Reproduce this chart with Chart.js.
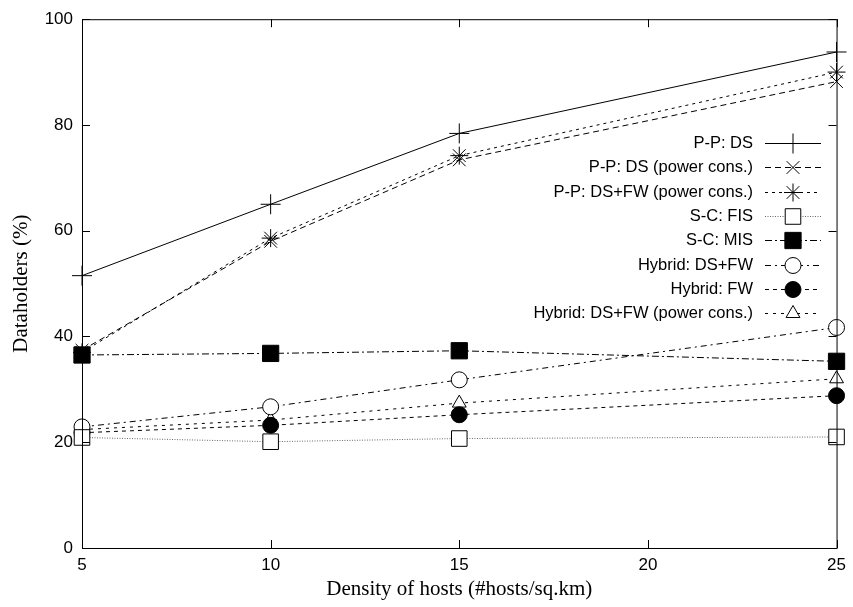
<!DOCTYPE html>
<html>
<head>
<meta charset="utf-8">
<script src="https://cdn.jsdelivr.net/npm/chart.js@4.4.1/dist/chart.umd.min.js"></script>
<style>
  html, body { margin: 0; padding: 0; background: #fff; }
  #wrap { width: 853px; height: 607px; }
</style>
</head>
<body>
<div id="wrap"><canvas id="chart" width="853" height="607"></canvas></div>
<script>
// Densidade de hosts (eixo x)
var hosts = [5, 10, 15, 25]
var xTicks = [5, 10, 15, 20, 25]
var yTicks = [0, 20, 40, 60, 80, 100]

// Dataholders (%)
var ppDS = [51.5, 65.0, 78.4, 93.8]
var ppDSpower = [37.4, 58.0, 73.4, 88.2]
var ppDSFWpower = [37.0, 58.6, 74.2, 90.0]
var scFIS = [20.9, 20.1, 20.7, 21.0]
var scMIS = [36.5, 36.8, 37.3, 35.3]
var hybDSFW = [22.9, 26.7, 31.8, 41.7]
var hybFW = [21.8, 23.2, 25.2, 28.8]
var hybDSFWpower = [22.4, 24.2, 27.4, 32.0]

var labels = [
  'P-P: DS',
  'P-P: DS (power cons.)',
  'P-P: DS+FW (power cons.)',
  'S-C: FIS',
  'S-C: MIS',
  'Hybrid: DS+FW',
  'Hybrid: FW',
  'Hybrid: DS+FW (power cons.)'
]

var sans = '"Liberation Sans", Arial, sans-serif'
var serif = '"Liberation Serif", "Times New Roman", serif'

function pts(values){
  return values.map((v, i) => ({ x: hosts[i], y: v }))
}

function serie(label, values, dash, style, radius, filled, lineColor){
  return {
    label: label,
    data: pts(values),
    borderColor: lineColor || '#000',
    borderWidth: 1,
    borderDash: dash,
    pointStyle: style,
    pointRadius: radius,
    pointHoverRadius: radius,
    pointBorderColor: '#000',
    pointBorderWidth: 1,
    pointBackgroundColor: filled ? '#000' : '#fff',
    tension: 0,
    fill: false,
    clip: false
  }
}

var datasets = [
  serie(labels[0], ppDS, [], 'cross', 10, false),
  serie(labels[1], ppDSpower, [6, 4], 'crossRot', 9, false),
  serie(labels[2], ppDSFWpower, [3, 4], 'star', 9, false),
  serie(labels[3], scFIS, [1, 1.5], 'rect', 11, false, '#666'),
  serie(labels[4], scMIS, [7, 3, 2, 3], 'rect', 11.5, true),
  serie(labels[5], hybDSFW, [6, 4, 2, 4], 'circle', 8, false),
  serie(labels[6], hybFW, [4, 4], 'circle', 8, true),
  serie(labels[7], hybDSFWpower, [3, 5], 'triangle', 8, false)
]

// Moldura, marcas internas e legenda no estilo gnuplot
var framePlugin = {
  id: 'frame',
  afterDraw(chart){
    var ctx = chart.ctx
    var a = chart.chartArea
    var xs = chart.scales.x
    var ys = chart.scales.y
    var tl = 8
    ctx.save()
    ctx.strokeStyle = '#000'
    ctx.lineWidth = 1
    ctx.setLineDash([])
    ctx.strokeRect(a.left + 0.5, a.top + 0.5, a.right - a.left, a.bottom - a.top)
    ctx.beginPath()
    xTicks.forEach((t) => {
      var px = Math.round(xs.getPixelForValue(t)) + 0.5
      ctx.moveTo(px, a.bottom); ctx.lineTo(px, a.bottom - tl)
      ctx.moveTo(px, a.top); ctx.lineTo(px, a.top + tl)
    })
    yTicks.forEach((t) => {
      var py = Math.round(ys.getPixelForValue(t)) + 0.5
      ctx.moveTo(a.left, py); ctx.lineTo(a.left + tl, py)
      ctx.moveTo(a.right, py); ctx.lineTo(a.right - tl, py)
    })
    ctx.stroke()

    // legenda
    ctx.font = '16.5px ' + sans
    ctx.textAlign = 'right'
    ctx.textBaseline = 'middle'
    chart.data.datasets.forEach((ds, i) => {
      var y = Math.round(143 + i * 24.3) + 0.5
      ctx.fillStyle = '#000'
      ctx.fillText(ds.label, 753, y)
      ctx.strokeStyle = ds.borderColor
      ctx.setLineDash(ds.borderDash)
      ctx.beginPath()
      ctx.moveTo(765, y)
      ctx.lineTo(821, y)
      ctx.stroke()
      ctx.setLineDash([])
      ctx.strokeStyle = '#000'
      ctx.fillStyle = ds.pointBackgroundColor
      Chart.helpers.drawPoint(ctx, {
        pointStyle: ds.pointStyle,
        radius: ds.pointRadius,
        rotation: 0,
        borderWidth: 1
      }, 793, y)
    })
    ctx.restore()
  }
}

new Chart(document.getElementById('chart'), {
  type: 'line',
  data: { datasets: datasets },
  options: {
    responsive: false,
    animation: false,
    layout: { autoPadding: false, padding: { left: 0, top: 15, right: 4, bottom: 0 } },
    plugins: {
      legend: { display: false },
      tooltip: { enabled: false }
    },
    scales: {
      x: {
        type: 'linear',
        min: 5,
        max: 25,
        afterBuildTicks: (s) => { s.ticks = xTicks.map((v) => ({ value: v })) },
        afterFit: (s) => { s.height = 59 },
        grid: { display: false, drawTicks: false },
        border: { display: false },
        ticks: {
          padding: 7,
          color: '#000',
          font: { family: sans, size: 17 }
        },
        title: {
          display: true,
          text: 'Density of hosts (#hosts/sq.km)',
          color: '#000',
          font: { family: serif, size: 21 },
          padding: { top: 0, bottom: 5 }
        }
      },
      y: {
        min: 0,
        max: 100,
        afterBuildTicks: (s) => { s.ticks = yTicks.map((v) => ({ value: v })) },
        afterFit: (s) => { s.width = 82 },
        grid: { display: false, drawTicks: false },
        border: { display: false },
        ticks: {
          padding: 9,
          color: '#000',
          font: { family: sans, size: 17 }
        },
        title: {
          display: true,
          text: 'Dataholders (%)',
          color: '#000',
          font: { family: serif, size: 21 },
          padding: { top: 9, bottom: 0 }
        }
      }
    }
  },
  plugins: [framePlugin]
});
</script>
</body>
</html>
